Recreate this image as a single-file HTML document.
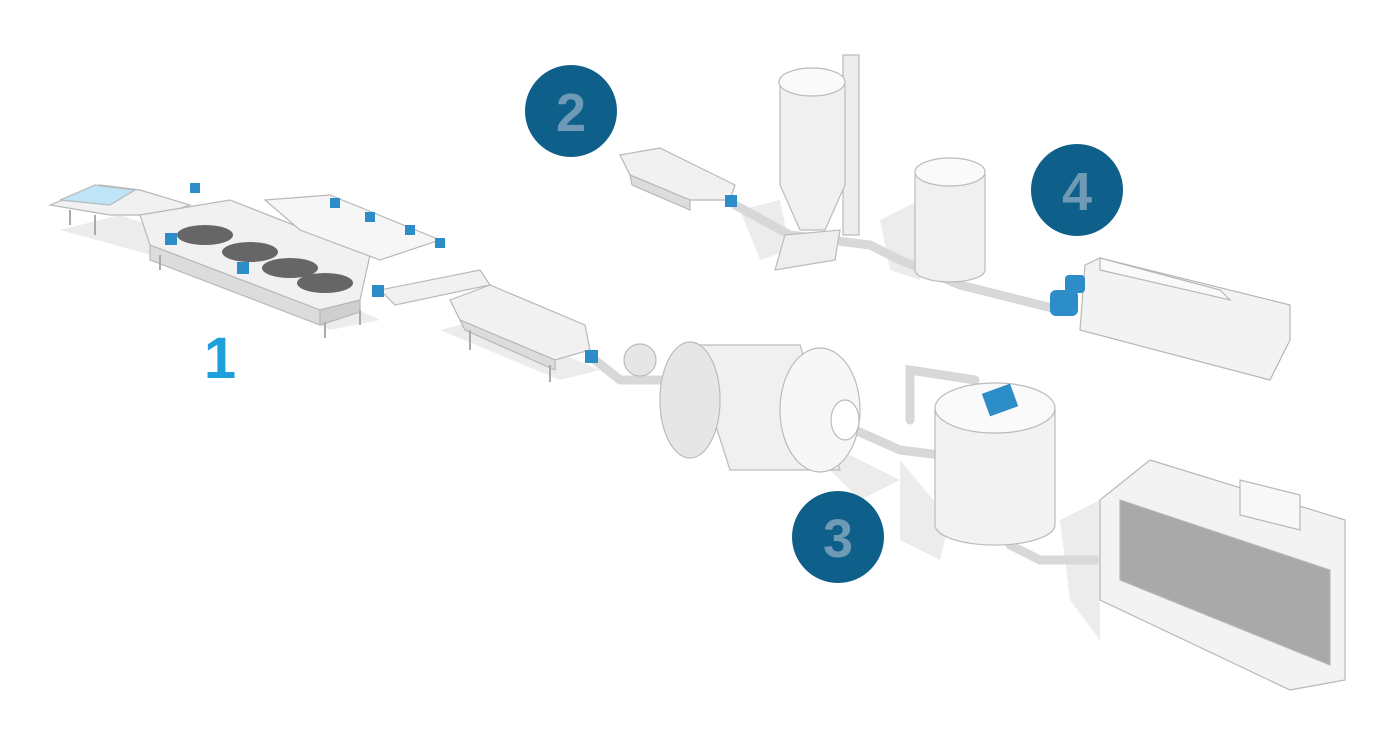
<!DOCTYPE html>
<html><head><meta charset="utf-8"><style>
html,body{margin:0;padding:0;background:#fff;width:1400px;height:736px;overflow:hidden}
svg{display:block}
text{font-family:"Liberation Sans",sans-serif;font-weight:bold}
</style></head><body>
<svg width="1400" height="736" viewBox="0 0 1400 736" xmlns="http://www.w3.org/2000/svg">
<g fill="#ececec">
<!-- shadows -->
<polygon points="60,230 170,260 330,330 380,320 250,260 120,215"/>
<polygon points="440,330 560,380 600,370 480,320"/>
<polygon points="820,440 880,470 900,480 860,500 830,470"/>
<polygon points="900,460 950,520 940,560 900,540"/>
<polygon points="1060,520 1100,500 1100,640 1070,600"/>
<polygon points="740,210 780,200 790,250 760,260"/>
<polygon points="880,220 920,200 920,280 890,270"/>
</g>
<!-- Line 1 table -->
<g stroke="#b8b8b8" stroke-width="1.2" fill="#f1f1f1">
<polygon points="50,205 100,185 140,190 190,205 160,215 110,215"/>
<polygon points="60,200 95,185 135,190 110,205" fill="#bfe3f7"/>
<polygon points="140,215 230,200 370,255 360,300 320,310 150,245"/>
<polygon points="150,245 320,310 320,325 150,260" fill="#dcdcdc"/>
<polygon points="320,310 360,300 360,312 320,325" fill="#cfcfcf"/>
<polygon points="265,200 330,195 440,240 380,260 300,230" fill="#f6f6f6"/>
<polygon points="380,290 480,270 490,285 395,305"/>
</g>
<g fill="#666">
<ellipse cx="205" cy="235" rx="28" ry="10"/>
<ellipse cx="250" cy="252" rx="28" ry="10"/>
<ellipse cx="290" cy="268" rx="28" ry="10"/>
<ellipse cx="325" cy="283" rx="28" ry="10"/>
</g>
<g stroke="#aaa" stroke-width="2">
<line x1="70" y1="210" x2="70" y2="225"/><line x1="95" y1="215" x2="95" y2="235"/>
<line x1="160" y1="255" x2="160" y2="270"/><line x1="325" y1="322" x2="325" y2="338"/>
<line x1="360" y1="310" x2="360" y2="325"/>
</g>
<!-- conveyor middle -->
<g stroke="#b8b8b8" stroke-width="1.2" fill="#f1f1f1">
<polygon points="450,300 490,285 585,325 590,350 555,360 460,320"/>
<polygon points="460,320 555,360 555,370 465,330" fill="#dcdcdc"/>
</g>
<g stroke="#aaa" stroke-width="2"><line x1="470" y1="330" x2="470" y2="350"/><line x1="550" y1="365" x2="550" y2="382"/></g>
<!-- pipes -->
<g stroke="#d8d8d8" stroke-width="9" fill="none" stroke-linecap="round">
<polyline points="595,360 620,380 665,380"/>
<polyline points="855,430 900,450 940,455"/>
<polyline points="910,420 910,370 975,380"/>
<polyline points="1010,545 1040,560 1095,560"/>
<polyline points="735,205 790,235 870,245 900,260 960,285 1060,310"/>
</g>
<!-- drum -->
<g stroke="#bbb" stroke-width="1.2">
<polygon points="690,345 800,345 840,470 730,470" fill="#f0f0f0"/>
<ellipse cx="690" cy="400" rx="30" ry="58" fill="#e6e6e6"/>
<ellipse cx="820" cy="410" rx="40" ry="62" fill="#f7f7f7"/>
<ellipse cx="845" cy="420" rx="14" ry="20" fill="#fff"/>
<circle cx="640" cy="360" r="16" fill="#e6e6e6"/>
</g>
<!-- tank 3 -->
<g stroke="#bbb" stroke-width="1.2">
<path d="M935,410 L935,525 A60,20 0 0 0 1055,525 L1055,410 Z" fill="#f2f2f2"/>
<ellipse cx="995" cy="408" rx="60" ry="25" fill="#fafafa"/>
</g>
<rect x="985" y="388" width="30" height="24" fill="#2c8dc8" transform="rotate(-20 1000 400)"/>
<!-- big machine -->
<g stroke="#b8b8b8" stroke-width="1.2">
<polygon points="1150,460 1345,520 1345,680 1290,690 1100,600 1100,500" fill="#f3f3f3"/>
<polygon points="1120,500 1330,570 1330,665 1120,580" fill="#a9a9a9"/>
<polygon points="1240,480 1300,495 1300,530 1240,515" fill="#f8f8f8"/>
</g>
<!-- top conveyor -->
<g stroke="#b8b8b8" stroke-width="1.2" fill="#f1f1f1">
<polygon points="620,155 660,148 735,185 730,200 690,200 630,175"/>
<polygon points="630,175 690,200 690,210 632,185" fill="#dcdcdc"/>
</g>
<!-- silo -->
<g stroke="#bbb" stroke-width="1.2">
<rect x="843" y="55" width="16" height="180" fill="#ededed"/>
<path d="M780,85 L780,185 L800,230 L825,230 L845,185 L845,85 Z" fill="#f0f0f0"/>
<ellipse cx="812" cy="82" rx="33" ry="14" fill="#fafafa"/>
<polygon points="785,235 840,230 835,260 775,270" fill="#eee"/>
</g>
<!-- tank 4 -->
<g stroke="#bbb" stroke-width="1.2">
<path d="M915,175 L915,270 A35,12 0 0 0 985,270 L985,175 Z" fill="#f0f0f0"/>
<ellipse cx="950" cy="172" rx="35" ry="14" fill="#fafafa"/>
</g>
<!-- right top machine -->
<g stroke="#b8b8b8" stroke-width="1.2">
<polygon points="1085,265 1100,258 1290,305 1290,340 1270,380 1080,330" fill="#f3f3f3"/>
<polygon points="1100,258 1220,290 1230,300 1100,270" fill="#fafafa"/>
</g>
<!-- blue motors -->
<g fill="#2c8dc8">
<rect x="1050" y="290" width="28" height="26" rx="6"/>
<rect x="1065" y="275" width="20" height="18" rx="4"/>
<rect x="725" y="195" width="12" height="12"/>
<rect x="585" y="350" width="13" height="13"/>
<rect x="165" y="233" width="12" height="12"/>
<rect x="237" y="262" width="12" height="12"/>
<rect x="372" y="285" width="12" height="12"/>
<rect x="190" y="183" width="10" height="10"/>
<rect x="330" y="198" width="10" height="10"/>
<rect x="365" y="212" width="10" height="10"/>
<rect x="405" y="225" width="10" height="10"/>
<rect x="435" y="238" width="10" height="10"/>
</g>
<!-- labels -->
<text x="220" y="378" font-size="58" fill="#1ea0dc" text-anchor="middle">1</text>
<circle cx="571" cy="111" r="46" fill="#0e5f8a"/>
<text x="571" y="131" font-size="54" fill="#6f9ab5" text-anchor="middle">2</text>
<circle cx="838" cy="537" r="46" fill="#0e5f8a"/>
<text x="838" y="557" font-size="54" fill="#6f9ab5" text-anchor="middle">3</text>
<circle cx="1077" cy="190" r="46" fill="#0e5f8a"/>
<text x="1077" y="210" font-size="54" fill="#6f9ab5" text-anchor="middle">4</text>
</svg>
</body></html>
